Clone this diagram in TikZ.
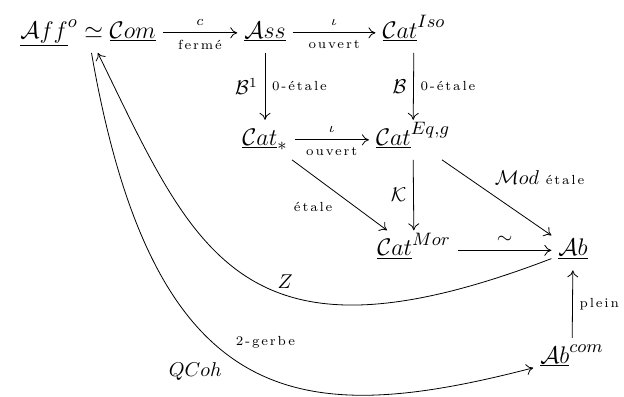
\documentclass[tikz,border=0pt]{standalone}
\usepackage{fontspec}
\usetikzlibrary{quotes,arrows.meta}

\newfontfamily\petitfamily{Latin Modern Roman}[LetterSpace=14]
\newcommand{\petitfont}{\petitfamily\fontsize{6.6}{7.5}\selectfont}

\begin{document}
\begin{tikzpicture}[x=0.5pt, y=-0.5pt, >={Computer Modern Rightarrow[length=3.5pt,width=5.5pt]},
        obj/.style={font=\fontsize{12.5}{15}\selectfont, anchor=base, text height=2.1ex, text depth=0.9ex},
        lbl/.style={font=\petitfont}]
    \useasboundingbox (0,0) rectangle (624,396);

    %place the categories
        \node[obj] (aff) at (88,38) {$\underline{\mathcal{A}ff}^o \simeq \underline{\mathcal{C}om}$};
        \node[obj] (ass) at (265,38) {$\underline{\mathcal{A}ss}$};
        \node[obj] (catiso) at (414,38) {$\underline{\mathcal{C}at}^{Iso}$};
        \node[obj] (catstar) at (265,145) {$\underline{\mathcal{C}at}_*$};
        \node[obj] (cateq) at (413,145) {$\underline{\mathcal{C}at}^{Eq,g}$};
        \node[obj] (catmor) at (414,255.5) {$\underline{\mathcal{C}at}^{Mor}$};
        \node[obj] (ab) at (573,255.5) {$\underline{\mathcal{A}b}$};
        \node[obj] (abcom) at (572,363) {$\underline{\mathcal{A}b}^{com}$};

    %draw the functors
        \draw[->] (aff) to ["$\scriptstyle c$", "fermé"' lbl] (ass);
        \draw[->] (ass) to ["$\scriptstyle \iota$", "ouvert"' lbl] (catiso);
        \draw[->] (ass) to ["$\mathcal{B}^1$"', "0-étale" lbl] (catstar);
        \draw[->] (catiso) to ["$\mathcal{B}$"', "0-étale" lbl] (cateq);
        \draw[->] (catstar) to ["$\scriptstyle \iota$", "ouvert"' lbl] (cateq);
        \draw[->] (catstar) to ["étale"' lbl] (catmor);
        \draw[->] (cateq) to ["$\mathcal{K}$"'] (catmor);
        \draw[->] (cateq) to ["{$\mathcal{M}od$ {\petitfont étale}}" pos=0.42] (ab);
        \draw[->] (catmor) to ["$\sim$"] (ab);
        \draw[->] (abcom) to ["plein"' lbl] (ab);

    %the two long curves
        \draw[->] (ab) .. controls (240,378) and (195,252) .. (aff) node[pos=0.4, above] {$Z$};
        \draw[->] (aff) .. controls (155,418) and (304,427) .. (abcom)
            node[pos=0.45, above right, lbl] {2-gerbe}
            node[pos=0.45, below left] {$QCoh$};

\end{tikzpicture}
\end{document}
